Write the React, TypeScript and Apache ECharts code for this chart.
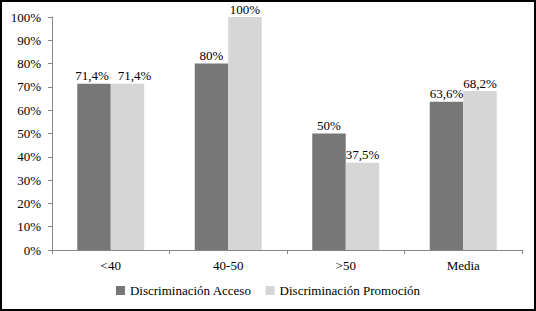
import React, { useEffect, useRef } from "react";
import * as echarts from "echarts";

const categories = ["<40", "40-50", ">50", "Media"];
const acceso = [71.4, 80, 50, 63.6];
const promocion = [71.4, 100, 37.5, 68.2];
const accesoLabels = ["71,4%", "80%", "50%", "63,6%"];
const promocionLabels = ["71,4%", "100%", "37,5%", "68,2%"];
const seriesNames = ["Discriminación Acceso", "Discriminación Promoción"];

const FONT = "'Liberation Serif', 'Times New Roman', serif";

export default function App() {
  const ref = useRef<HTMLDivElement>(null);
  useEffect(() => {
    document.body.style.margin = "0";
    const chart = echarts.init(ref.current!, null, { renderer: "svg" });
    // Separate the two labels of a category when they would collide (equal values)
    const accesoData = acceso.map((v, i) =>
      v === promocion[i] ? { value: v, label: { offset: [-2, 0] } } : v
    );
    const promocionData = promocion.map((v, i) =>
      v === acceso[i] ? { value: v, label: { offset: [7, 0] } } : v
    );
    chart.setOption({
      animation: false,
      backgroundColor: "#fff",
      textStyle: { fontFamily: FONT, color: "#000" },
      grid: { left: 52, right: 14, top: 17, bottom: 61, containLabel: false },
      legend: {
        bottom: 9,
        left: "center",
        itemWidth: 9,
        itemHeight: 9,
        itemGap: 14,
        icon: "rect",
        textStyle: { fontFamily: FONT, fontSize: 13, color: "#000" },
        data: seriesNames,
      },
      xAxis: {
        type: "category",
        data: categories,
        axisLine: { lineStyle: { color: "#868686" } },
        axisTick: { show: true, lineStyle: { color: "#868686" }, length: 4 },
        axisLabel: { fontFamily: FONT, fontSize: 13, color: "#000", margin: 9 },
      },
      yAxis: {
        type: "value",
        min: 0,
        max: 100,
        interval: 10,
        splitLine: { show: false },
        axisLine: { show: true, lineStyle: { color: "#868686" } },
        axisTick: { show: true, lineStyle: { color: "#868686" }, length: 4 },
        axisLabel: {
          fontFamily: FONT,
          fontSize: 13,
          color: "#000",
          margin: 11,
          formatter: (v: number) => v + "%",
        },
      },
      series: [
        {
          name: seriesNames[0],
          type: "bar",
          data: accesoData,
          barGap: "0%",
          barCategoryGap: "43%",
          itemStyle: { color: "#777777" },
          label: {
            show: true,
            position: "top",
            distance: 2,
            lineHeight: 12,
            fontFamily: FONT,
            fontSize: 13,
            color: "#000",
            formatter: (p: any) => accesoLabels[p.dataIndex],
          },
        },
        {
          name: seriesNames[1],
          type: "bar",
          data: promocionData,
          barGap: "0%",
          barCategoryGap: "43%",
          itemStyle: { color: "#d6d6d6" },
          label: {
            show: true,
            position: "top",
            distance: 2,
            lineHeight: 12,
            fontFamily: FONT,
            fontSize: 13,
            color: "#000",
            formatter: (p: any) => promocionLabels[p.dataIndex],
          },
        },
      ],
    });
    return () => chart.dispose();
  }, []);
  return (
    <div
      style={{
        position: "relative",
        width: 536,
        height: 311,
        boxSizing: "border-box",
        border: "2px solid #000",
        overflow: "hidden",
      }}
    >
      <div ref={ref} style={{ position: "absolute", left: -2, top: -2, width: 536, height: 311 }} />
    </div>
  );
}
